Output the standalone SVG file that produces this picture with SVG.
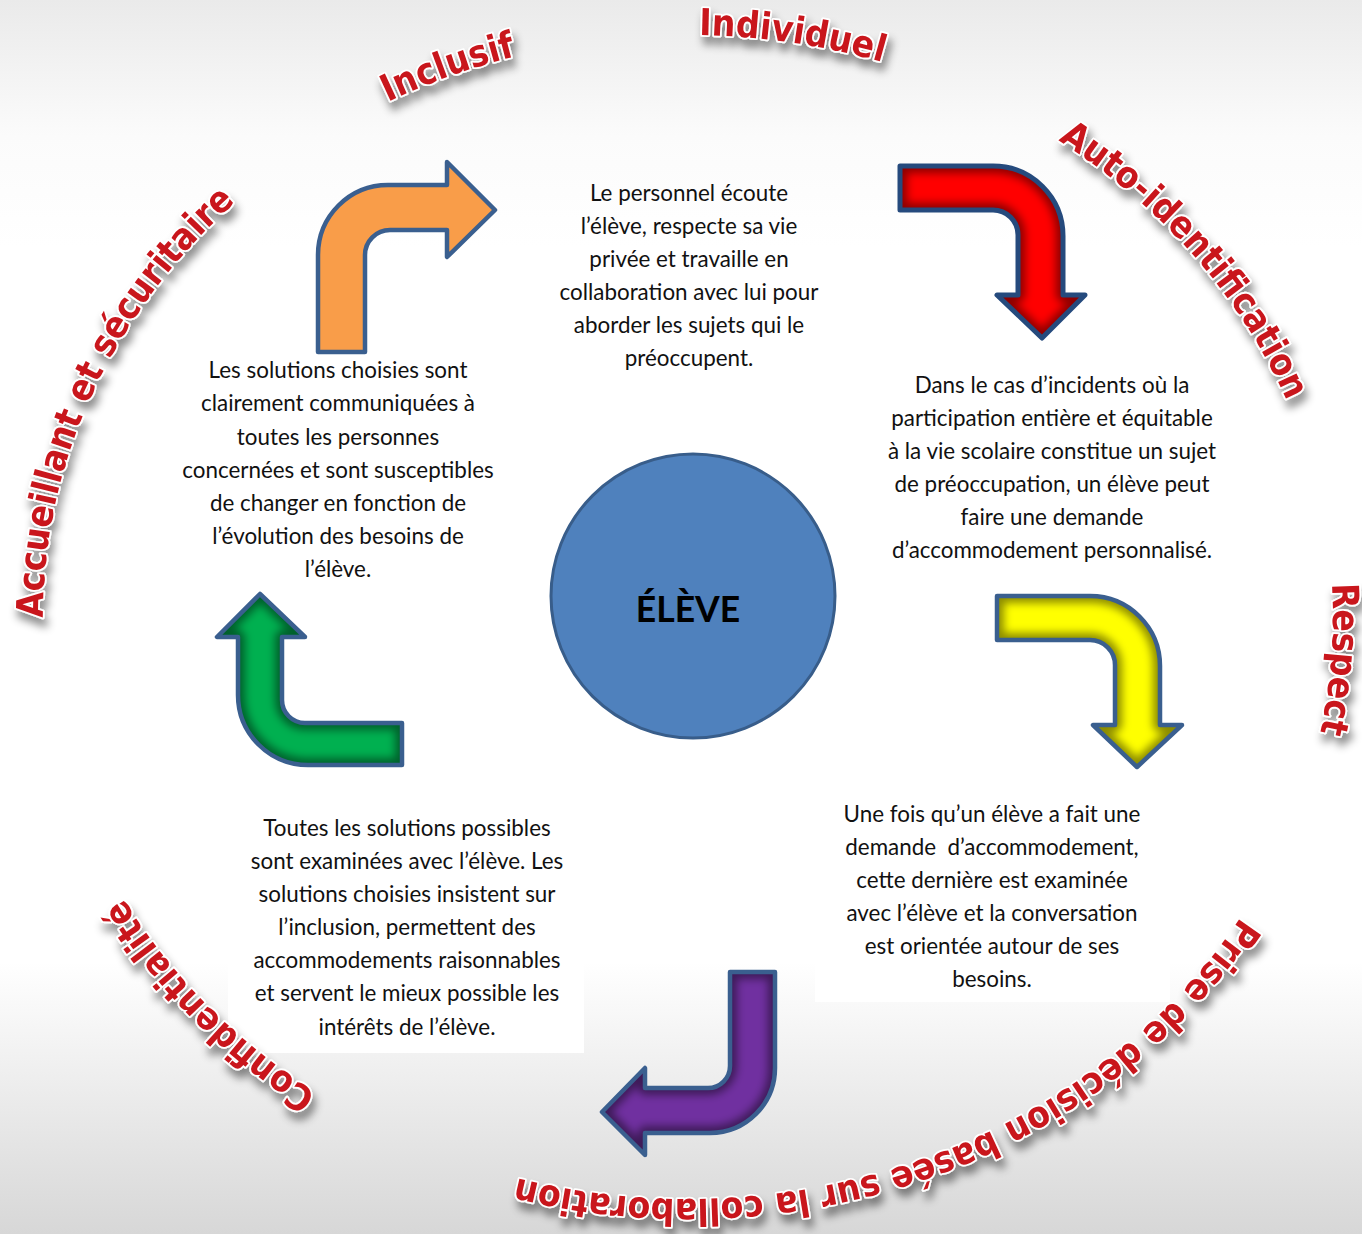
<svg xmlns="http://www.w3.org/2000/svg" xmlns:xlink="http://www.w3.org/1999/xlink" width="1362" height="1234" viewBox="0 0 1362 1234">
<style>
.body{font-family:Lato,"Open Sans","Liberation Sans",sans-serif;font-size:22.4px;fill:#111;text-anchor:middle}
.ring{font-family:"DejaVu Sans Condensed","DejaVu Sans","Liberation Sans",sans-serif;font-stretch:condensed;font-weight:bold;font-size:37px;fill:#c9161c;stroke:#fff;stroke-width:3.5px;paint-order:stroke;stroke-linejoin:round}
.outline{fill:none;stroke:#3a5f8f;stroke-width:4.5;stroke-linejoin:round}
.outline-dark{fill:none;stroke:#254a7d;stroke-width:5;stroke-linejoin:round}
.glow{fill:none;stroke:#000;stroke-opacity:0.45;stroke-width:14;stroke-linejoin:round}
.f-orange{fill:#f99d49;stroke:none}
.f-red{fill:#ff0000;stroke:none}
.f-yellow{fill:#ffff00;stroke:none}
.f-purple{fill:#7030a0;stroke:none}
.f-green{fill:#00b050;stroke:none}
</style>
<defs>
<linearGradient id="bg" x1="0" y1="0" x2="0" y2="1">
<stop offset="0" stop-color="#eaeaea"/>
<stop offset="0.11" stop-color="#fbfbfb"/>
<stop offset="0.2" stop-color="#ffffff"/>
<stop offset="0.78" stop-color="#ffffff"/>
<stop offset="1" stop-color="#d7d7d7"/>
</linearGradient>
<filter id="shadow" x="-20%" y="-30%" width="140%" height="170%">
<feDropShadow dx="3" dy="8" stdDeviation="4" flood-color="#000" flood-opacity="0.45"/>
</filter>
<filter id="blur" x="-20%" y="-20%" width="140%" height="140%">
<feGaussianBlur stdDeviation="4"/>
</filter>
<path id="ringpath" d="M688,35 A645,582 0 1 1 688,1199 A645,582 0 1 1 688,35 Z"/>
<path id="p-orange" d="M318,352 L318,255 A70,70 0 0 1 388,185 L447,185 L447,162 L495,210 L447,257 L447,230 L390,230 A25,25 0 0 0 365,255 L365,352 Z"/>
<path id="p-red" d="M900,166 L993,166 A70,70 0 0 1 1063,236 L1063,295 L1085,295 L1042,338 L997,295 L1018,295 L1018,235 A25,25 0 0 0 993,210 L900,210 Z"/>
<path id="p-yellow" d="M997,596 L1090,596 A70,70 0 0 1 1160,666 L1160,725 L1182,725 L1137,767 L1093,725 L1115,725 L1115,665 A25,25 0 0 0 1090,640 L997,640 Z"/>
<path id="p-purple" d="M730,972 L775,972 L775,1068 A65,65 0 0 1 710,1133 L645,1133 L645,1155 L602,1112 L645,1068 L645,1088 L708,1088 A22,22 0 0 0 730,1066 Z"/>
<path id="p-green" d="M402,723 L305,723 A23,23 0 0 1 282,700 L282,637 L305,637 L260,594 L217,637 L238,637 L238,695 A70,70 0 0 0 308,765 L402,765 Z"/>
<clipPath id="c-red"><use href="#p-red"/></clipPath>
<clipPath id="c-yellow"><use href="#p-yellow"/></clipPath>
<clipPath id="c-purple"><use href="#p-purple"/></clipPath>
<clipPath id="c-green"><use href="#p-green"/></clipPath>
</defs>
<rect x="0" y="0" width="1362" height="1234" fill="url(#bg)"/>
<rect x="228" y="806" width="356" height="247" fill="#fff"/>
<rect x="815" y="792" width="355" height="210" fill="#fff"/>

<g id="ring-labels" filter="url(#shadow)">
<text class="ring"><textPath href="#ringpath" startOffset="104" text-anchor="middle">Individuel</textPath></text>
<text class="ring"><textPath href="#ringpath" startOffset="566" text-anchor="middle">Auto-identification</textPath></text>
<text class="ring"><textPath href="#ringpath" startOffset="1006" text-anchor="middle">Respect</textPath></text>
<text class="ring"><textPath href="#ringpath" startOffset="1692" text-anchor="middle">Prise de décision basée sur la collaboration</textPath></text>
<text class="ring"><textPath href="#ringpath" startOffset="2458" text-anchor="middle">Confidentialité</textPath></text>
<text class="ring"><textPath href="#ringpath" startOffset="3128" text-anchor="middle">Accueillant et sécuritaire</textPath></text>
<text class="ring"><textPath href="#ringpath" startOffset="3615" text-anchor="middle">Inclusif</textPath></text>
</g>

<g id="connectors">
<g id="arrow-orange">
<use href="#p-orange" class="f-orange"/>
<use href="#p-orange" class="outline"/>
</g>
<g id="arrow-red">
<g clip-path="url(#c-red)">
<use href="#p-red" class="f-red"/>
<g filter="url(#blur)"><use href="#p-red" class="glow"/></g>
</g>
<use href="#p-red" class="outline-dark"/>
</g>
<g id="arrow-yellow">
<g clip-path="url(#c-yellow)">
<use href="#p-yellow" class="f-yellow"/>
<g filter="url(#blur)"><use href="#p-yellow" class="glow"/></g>
</g>
<use href="#p-yellow" class="outline"/>
</g>
<g id="arrow-purple">
<g clip-path="url(#c-purple)">
<use href="#p-purple" class="f-purple"/>
<g filter="url(#blur)"><use href="#p-purple" class="glow"/></g>
</g>
<use href="#p-purple" class="outline"/>
</g>
<g id="arrow-green">
<g clip-path="url(#c-green)">
<use href="#p-green" class="f-green"/>
<g filter="url(#blur)"><use href="#p-green" class="glow"/></g>
</g>
<use href="#p-green" class="outline"/>
</g>
</g>

<g id="node-eleve">
<circle cx="693" cy="596" r="142" fill="#4f81bd" stroke="#385d8a" stroke-width="3"/>
<text x="688" y="622" font-family="Lato,'Open Sans','Liberation Sans',sans-serif" font-weight="bold" font-size="35.5" fill="#000" text-anchor="middle">ÉLÈVE</text>
</g>

<g id="node-top">
<text class="body"><tspan x="689" y="201">Le personnel écoute</tspan><tspan x="689" y="234">l’élève, respecte sa vie</tspan><tspan x="689" y="267">privée et travaille en</tspan><tspan x="689" y="300">collaboration avec lui pour</tspan><tspan x="689" y="333">aborder les sujets qui le</tspan><tspan x="689" y="366">préoccupent.</tspan></text>
</g>
<g id="node-right">
<text class="body"><tspan x="1052" y="393">Dans le cas d’incidents où la</tspan><tspan x="1052" y="426">participation entière et équitable</tspan><tspan x="1052" y="459">à la vie scolaire constitue un sujet</tspan><tspan x="1052" y="492">de préoccupation, un élève peut</tspan><tspan x="1052" y="525">faire une demande</tspan><tspan x="1052" y="558">d’accommodement personnalisé.</tspan></text>
</g>
<g id="node-bottom-right">
<text class="body" xml:space="preserve"><tspan x="992" y="822">Une fois qu’un élève a fait une</tspan><tspan x="992" y="855">demande  d’accommodement,</tspan><tspan x="992" y="888">cette dernière est examinée</tspan><tspan x="992" y="921">avec l’élève et la conversation</tspan><tspan x="992" y="954">est orientée autour de ses</tspan><tspan x="992" y="987">besoins.</tspan></text>
</g>
<g id="node-bottom-left">
<text class="body"><tspan x="407" y="836">Toutes les solutions possibles</tspan><tspan x="407" y="869">sont examinées avec l’élève. Les</tspan><tspan x="407" y="902">solutions choisies insistent sur</tspan><tspan x="407" y="935">l’inclusion, permettent des</tspan><tspan x="407" y="968">accommodements raisonnables</tspan><tspan x="407" y="1001">et servent le mieux possible les</tspan><tspan x="407" y="1035">intérêts de l’élève.</tspan></text>
</g>
<g id="node-left">
<text class="body"><tspan x="338" y="378">Les solutions choisies sont</tspan><tspan x="338" y="411">clairement communiquées à</tspan><tspan x="338" y="445">toutes les personnes</tspan><tspan x="338" y="478">concernées et sont susceptibles</tspan><tspan x="338" y="511">de changer en fonction de</tspan><tspan x="338" y="544">l’évolution des besoins de</tspan><tspan x="338" y="577">l’élève.</tspan></text>
</g>
</svg>
